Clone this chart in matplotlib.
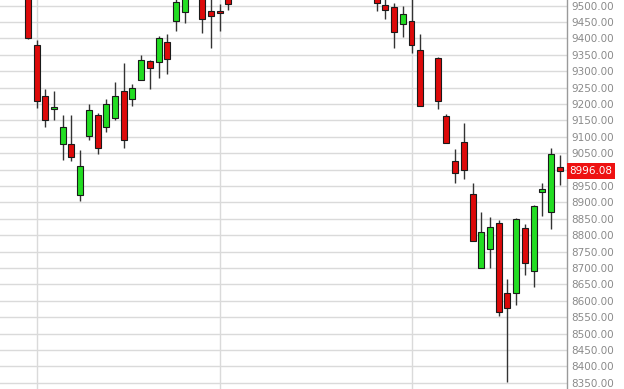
import numpy as np
import matplotlib
matplotlib.use("Agg")
import matplotlib.pyplot as plt

nan = np.nan
# trading-day slot index (0 = first visible session); NaN rows = sessions fully off-scale / holiday
slots = list(range(62))
opens = [9580, 9381, 9224, 9185, 9079, 9079, 8923, 9103, 9167, 9130,
         9156, 9241, 9216, 9273, 9331, 9327, 9390, 9454, 9480, nan,
         9545, 9484, 9484, 9530] + [nan] * 16 + [
         9530, 9501, 9497, 9445, 9454, 9364, nan, 9341, 9164, 9027,
         9084, 8925, 8700, 8758, 8837, 8623, 8623, 8821, 8690, 8931,
         8871, 9008]
highs = [9600, 9394, 9246, 9240, 9168, 9168, 9061, 9201, 9172, 9216,
         9268, 9326, 9261, 9351, 9333, 9409, 9415, 9530, 9570, nan,
         9560, 9530, 9504, 9540] + [nan] * 16 + [
         9545, 9525, 9507, 9498, 9530, 9415, nan, 9344, 9171, 9064,
         9141, 8958, 8871, 8854, 8847, 8665, 8852, 8835, 8893, 8958,
         9067, 9045]
lows = [9399, 9188, 9130, 9152, 9029, 9027, 8903, 9090, 9048, 9116,
        9150, 9066, 9193, 9273, 9246, 9279, 9293, 9422, 9446, nan,
        9417, 9370, 9422, 9486] + [nan] * 16 + [
        9483, 9458, 9370, 9404, 9356, 9193, nan, 9186, 9081, 8959,
        8972, 8782, 8700, 8699, 8553, 8352, 8586, 8680, 8642, 8859,
        8819, 8952]
closes = [9403, 9208, 9150, 9191, 9130, 9037, 9011, 9182, 9067, 9201,
          9224, 9090, 9249, 9334, 9310, 9402, 9336, 9510, 9545, nan,
          9460, 9468, 9477, 9504] + [nan] * 16 + [
          9507, 9487, 9420, 9474, 9381, 9194, nan, 9208, 9082, 8990,
          9000, 8783, 8810, 8824, 8567, 8577, 8850, 8714, 8889, 8940,
          9048, 8996.08]
month_start_slots = [1, 22, 44]
y_ticks = list(range(8350, 9501, 50))
last_price = 8996.08

x = np.array(slots, dtype=float)
o = np.array(opens, dtype=float)
h = np.array(highs, dtype=float)
l = np.array(lows, dtype=float)
c = np.array(closes, dtype=float)
valid = ~np.isnan(o)

fig = plt.figure(figsize=(6.24, 3.89), dpi=100)
ax = fig.add_axes([0, 0, 567 / 624, 1])

grid_col = "#dadada"
for yv in y_ticks:
    ax.axhline(yv, color=grid_col, lw=1.0, zorder=0)
for m in month_start_slots:
    ax.axvline(m, color=grid_col, lw=1.0, zorder=0)

up = valid & (c >= o)
dn = valid & (c < o)
ax.vlines(x[valid], l[valid], h[valid], color="#333333", lw=1.0, zorder=2)
bottoms = np.minimum(o, c)
heights = np.maximum(np.abs(c - o), 2.0)
ax.bar(x[up], heights[up], bottom=bottoms[up], width=0.68,
       color="#22dd22", edgecolor="#1a1a1a", linewidth=0.8, zorder=3)
ax.bar(x[dn], heights[dn], bottom=bottoms[dn], width=0.68,
       color="#dd0a0a", edgecolor="#1a1a1a", linewidth=0.8, zorder=3)

ax.set_xlim(-3.19, 61.83)
ax.set_ylim(8330.8, 9517.4)

# the tick label hidden behind the last-price box is left blank
hidden = min(y_ticks, key=lambda v: abs(v - last_price))
ax.yaxis.tick_right()
ax.set_yticks(y_ticks)
ax.set_yticklabels(["" if v == hidden else f"{v:.2f}" for v in y_ticks])
ax.tick_params(axis="y", length=0, pad=3, labelsize=7.5, labelcolor="#8a8a8a")
ax.set_xticks([])
for s in ["top", "left", "bottom"]:
    ax.spines[s].set_visible(False)
ax.spines["right"].set_color("#9a9a9a")
ax.spines["right"].set_linewidth(1.0)

ax.text(1.004, last_price, f"{last_price:.2f}", transform=ax.get_yaxis_transform(),
        ha="left", va="center", fontsize=7.5, color="white", zorder=5,
        bbox=dict(boxstyle="square,pad=0.25", fc="#ee1111", ec="none"))

fig.savefig("out.png", dpi=100)
